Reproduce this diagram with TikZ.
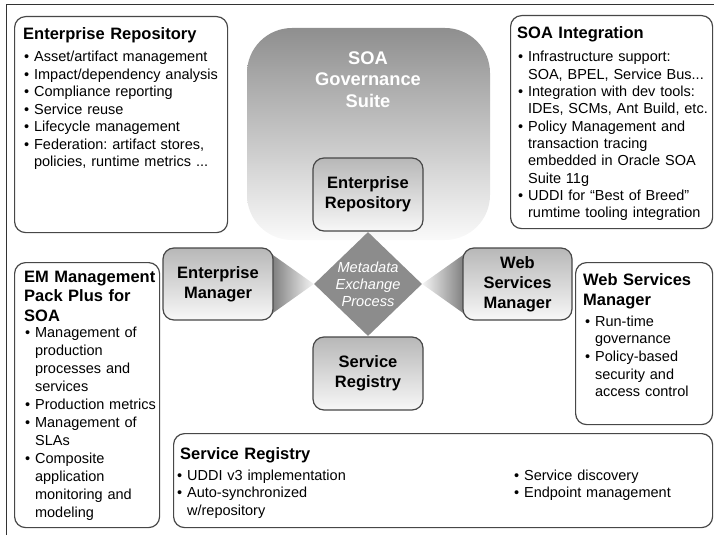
\documentclass[tikz,border=0pt]{standalone}
\usepackage{fontspec}
\setmainfont{Liberation Sans}
\usetikzlibrary{shapes.geometric}
\pgfdeclareverticalshading{suiteshade}{100bp}{color(0bp)=(white); color(25bp)=(black!2); color(75bp)=(black!44); color(100bp)=(black!44)}
\pgfdeclareverticalshading{boxshade}{100bp}{color(0bp)=(black!3); color(25bp)=(black!3); color(75bp)=(black!28); color(100bp)=(black!28)}
\pgfdeclarehorizontalshading{wedgeL}{100bp}{color(0bp)=(black!55); color(25bp)=(black!55); color(75bp)=(black!4); color(100bp)=(black!4)}
\pgfdeclarehorizontalshading{wedgeR}{100bp}{color(0bp)=(black!4); color(25bp)=(black!4); color(75bp)=(black!55); color(100bp)=(black!55)}
\newcommand{\bul}{\textbullet\ }
\newcommand{\cont}{\hphantom{\textbullet\ }}
\frenchspacing
\tikzset{
  frameline/.style={draw=black!80, line width=1pt},
  txtbox/.style={draw=black!72, line width=1.2pt, rounded corners=11pt, fill=white, inner sep=0pt, anchor=north west},
  cbox/.style={draw=black!72, line width=1.2pt, rounded corners=11pt, shading=boxshade, align=center, inner sep=0pt,
    font=\bfseries\fontsize{16.5}{20}\selectfont},
  ttl/.style={anchor=base west, inner sep=0pt, font=\bfseries\fontsize{16.5}{19.5}\selectfont, align=left, text width=200pt},
  body/.style={anchor=base west, inner sep=0pt, font=\fontsize{14.5}{17.4}\selectfont, align=left, text width=230pt},
}
\begin{document}
\begin{tikzpicture}[x=1pt,y=-1pt]
\useasboundingbox (0,0) rectangle (714,535);
\draw[frameline] (6,535) -- (6,5) -- (714,5);

% suite background
\shade[shading=suiteshade, rounded corners=45pt] (247,240) -- (247,28) -- (490,28) -- (490,240) -- cycle;
\node[text width=160pt, align=center, anchor=base, inner sep=0pt, text=white,
      font=\bfseries\fontsize{18.3}{21.5}\selectfont] (suite) at (368,64) {SOA\\Governance\\Suite};

% diamond
\node[diamond, fill=black!45, minimum width=108pt, minimum height=104pt, inner sep=0pt] (mx) at (368,284) {};
\node[align=center, inner sep=0pt, text=white, font=\itshape\fontsize{14.6}{17}\selectfont] (mxt) at (mx.center) {Metadata\\Exchange\\Process};

% wedges
\shade[shading=wedgeL] (268,251.5) -- (mx.west) -- (268,316.5) -- cycle;
\shade[shading=wedgeR] (468,251.5) -- (mx.east) -- (468,316.5) -- cycle;

% central nodes
\node[cbox, minimum width=110pt, minimum height=73pt] (er) at (368,194.5) {Enterprise\\Repository};
\node[cbox, minimum width=110pt, minimum height=72pt] (em) at (218,284) {Enterprise\\Manager};
\node[cbox, minimum width=109pt, minimum height=72pt] (wsm) at (517.5,284) {Web\\Services\\Manager};
\node[cbox, minimum width=110pt, minimum height=73pt] (sr) at (368,373.5) {Service\\Registry};

% text boxes
\node[txtbox, minimum width=213pt, minimum height=216pt] (erbox) at (14,16) {};
\node[ttl] (erttl) at (23,40) {Enterprise Repository};
\node[body] (erbody) at (24,62) {\bul Asset/artifact management\\
\bul Impact/dependency analysis\\
\bul Compliance reporting\\
\bul Service reuse\\
\bul Lifecycle management\\
\bul Federation: artifact stores,\\
\cont policies, runtime metrics ...};

\node[txtbox, minimum width=202pt, minimum height=213pt] (soabox) at (510,15) {};
\node[ttl] (soattl) at (517,39) {SOA Integration};
\node[body, font=\fontsize{14.5}{17.33}\selectfont] (soabody) at (518,62) {\bul Infrastructure support:\\
\cont SOA, BPEL, Service Bus...\\
\bul Integration with dev tools:\\
\cont IDEs, SCMs, Ant Build, etc.\\
\bul Policy Management and\\
\cont transaction tracing\\
\cont embedded in Oracle SOA\\
\cont Suite 11g\\
\bul UDDI for “Best of Breed”\\
\cont rumtime tooling integration};

\node[txtbox, minimum width=137pt, minimum height=162pt] (wsmbox) at (575,262) {};
\node[ttl, font=\bfseries\fontsize{16.5}{20}\selectfont] (wsmttl) at (583,285) {Web Services\\Manager};
\node[body, font=\fontsize{14.5}{17.7}\selectfont] (wsmbody) at (585,326) {\bul Run-time\\
\cont governance\\
\bul Policy-based\\
\cont security and\\
\cont access control};

\node[txtbox, minimum width=145pt, minimum height=265pt] (embox) at (14,262) {};
\node[ttl] (emttl) at (24,282) {EM Management\\Pack Plus for\\SOA};
\node[body, font=\fontsize{14.5}{18}\selectfont] (embody) at (25,337) {\bul Management of\\
\cont production\\
\cont processes and\\
\cont services\\
\bul Production metrics\\
\bul Management of\\
\cont SLAs\\
\bul Composite\\
\cont application\\
\cont monitoring and\\
\cont modeling};

\node[txtbox, minimum width=539pt, minimum height=94pt] (srbox) at (173,433) {};
\node[ttl] (srttl) at (180,459) {Service Registry};
\node[body, font=\fontsize{14.5}{17.5}\selectfont] (srbodyl) at (177,480) {\bul UDDI v3 implementation\\
\bul Auto-synchronized\\
\cont w/repository};
\node[body, font=\fontsize{14.5}{17.5}\selectfont] (srbodyr) at (514,480) {\bul Service discovery\\
\bul Endpoint management};
\end{tikzpicture}
\end{document}
